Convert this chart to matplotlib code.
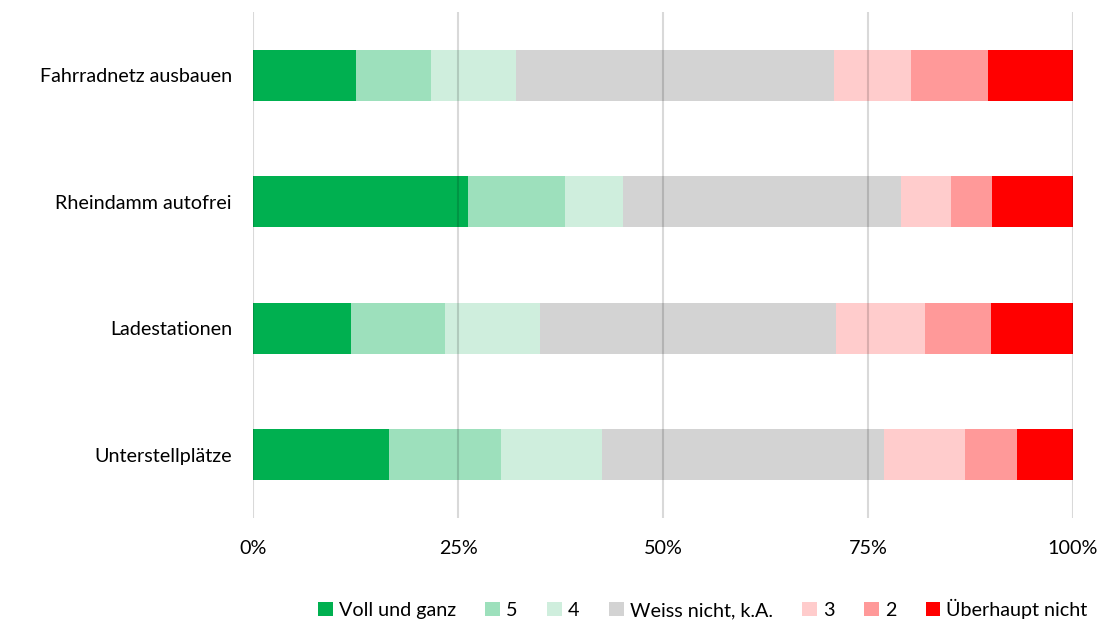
import matplotlib.pyplot as plt
import numpy as np

plt.rcParams['font.family'] = ['Lato', 'DejaVu Sans']

categories = ["Fahrradnetz ausbauen", "Rheindamm autofrei", "Ladestationen", "Unterstellplätze"]
series = ["Voll und ganz", "5", "4", "Weiss nicht, k.A.", "3", "2", "Überhaupt nicht"]
colors = ["#00B050", "#9DE0BC", "#CFEEDD", "#D3D3D3", "#FFCCCC", "#FF9999", "#FF0000"]

# percent per category, one list per series
voll = [12.5, 26.2, 12.0, 16.6]
s5 = [9.2, 11.9, 11.4, 13.6]
s4 = [10.4, 7.0, 11.6, 12.4]
weiss = [38.7, 33.9, 36.1, 34.3]
s3 = [9.5, 6.1, 10.9, 9.9]
s2 = [9.3, 5.0, 8.0, 6.4]
ueberhaupt = [10.4, 9.9, 10.0, 6.8]
values = [voll, s5, s4, weiss, s3, s2, ueberhaupt]

fig = plt.figure(figsize=(11.02, 6.23), dpi=100)
ax = fig.add_axes([253 / 1102, 1 - 518 / 623, 820 / 1102, 506 / 623])

y = np.arange(len(categories))
total = np.array([sum(v[i] for v in values) for i in range(len(categories))])
left = np.zeros(len(categories))
for name, vals, col in zip(series, values, colors):
    frac = np.array(vals) / total
    ax.barh(y, frac, left=left, height=0.4, color=col, label=name, zorder=1)
    left += frac

ax.set_xlim(0, 1)
ax.set_ylim(3.5, -0.5)
ax.set_xticks([0, 0.25, 0.5, 0.75, 1.0])
ax.set_xticklabels(["0%", "25%", "50%", "75%", "100%"])
ax.set_yticks(y)
ax.set_yticklabels(categories)
ax.tick_params(axis='both', length=0, labelsize=14.2, colors='#000000')
ax.tick_params(axis='y', pad=15.2)
ax.tick_params(axis='x', pad=16)
for xv in [0, 0.25, 0.5, 0.75, 1.0]:
    ax.axvline(xv, color='black', alpha=0.15, lw=1.5, zorder=3)
for s in ax.spines.values():
    s.set_visible(False)

fig.legend(loc='lower right', bbox_to_anchor=(1.003, -0.022), ncol=7, frameon=False,
           fontsize=14.2, handlelength=0.75, handleheight=0.75, handletextpad=0.3,
           columnspacing=1.5)

fig.savefig("out.png", dpi=100)
